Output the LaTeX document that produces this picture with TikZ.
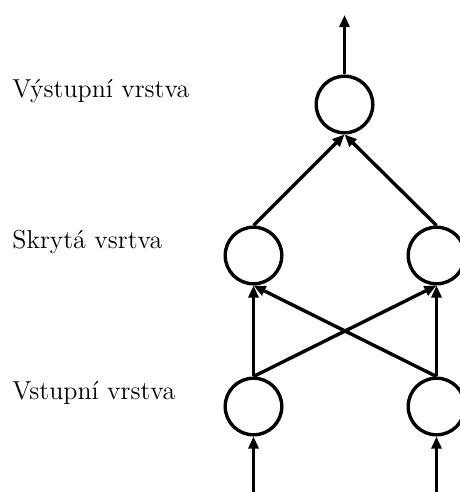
\documentclass[tikz,border=0pt]{standalone}
\usetikzlibrary{arrows.meta}
\begin{document}
\begin{tikzpicture}[x=0.4274pt, y=-0.4274pt,
  neuron/.style={circle, draw, line width=1.45pt, minimum size=24.2pt, inner sep=0pt},
  conn/.style={line width=1.45pt, -{Triangle[length=5.2pt, width=4.3pt]}},
  layerlabel/.style={anchor=base west, inner sep=0pt, font=\fontsize{11.1}{13}\selectfont}]
  \useasboundingbox (0,0) rectangle (459,492);

  % layer labels
  \node[layerlabel] (lout) at (12,98) {Výstupní vrstva};
  \node[layerlabel] (lhid) at (12,249) {Skrytá vsrtva};
  \node[layerlabel] (lin)  at (12,399) {Vstupní vrstva};

  % neurons
  \node[neuron] (o)  at (344.5,104.5) {};
  \node[neuron] (h1) at (253.5,255.5) {};
  \node[neuron] (h2) at (436.5,255.5) {};
  \node[neuron] (i1) at (253.5,406.5) {};
  \node[neuron] (i2) at (436.5,406.5) {};

  % free ends of the input and output arrows
  \coordinate (out) at (344.5,15);
  \coordinate (in1) at (253.5,495);
  \coordinate (in2) at (436.5,495);

  % connections
  \draw[conn] (in1) -- (i1.south);
  \draw[conn] (in2) -- (i2.south);
  \draw[conn] (i1.north) -- (h1.south);
  \draw[conn] (i1.north) -- (h2.south);
  \draw[conn] (i2.north) -- (h1.south);
  \draw[conn] (i2.north) -- (h2.south);
  \draw[conn] (h1.north) -- (o.south);
  \draw[conn] (h2.north) -- (o.south);
  \draw[conn] (o.north) -- (out);
\end{tikzpicture}
\end{document}
